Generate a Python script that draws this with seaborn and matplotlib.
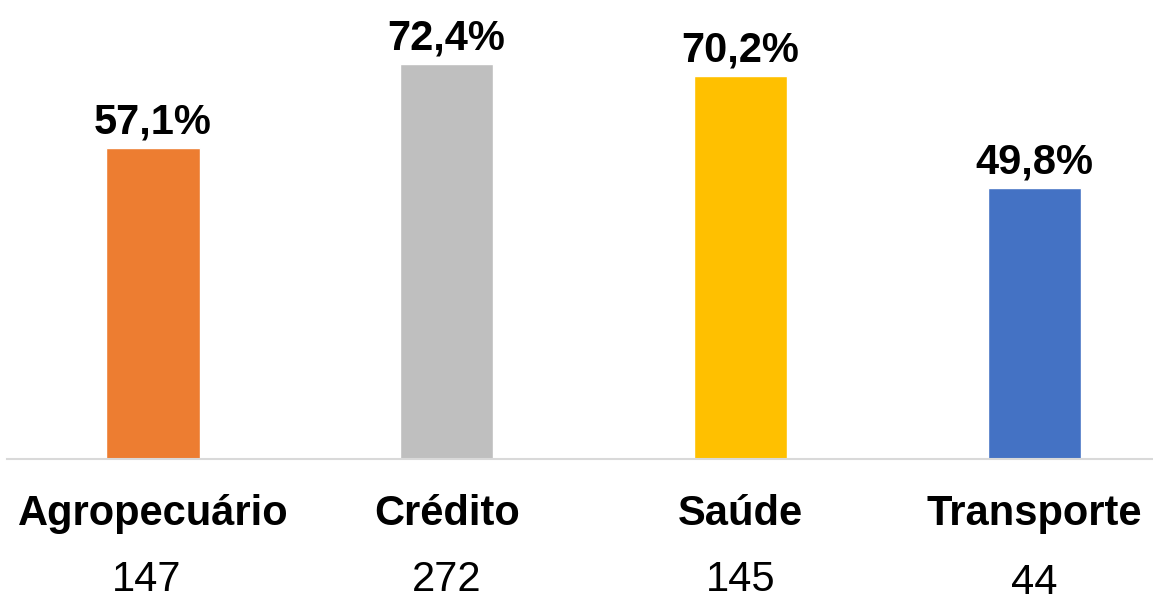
import pandas as pd
import seaborn as sns
import matplotlib.pyplot as plt

# === Data ===
categories = ["Agropecuário", "Crédito", "Saúde", "Transporte"]
percentages = [57.1, 72.4, 70.2, 49.8]
counts = [147, 272, 145, 44]
colors = ["#ED7D31", "#BFBFBF", "#FFC000", "#4472C4"]

df = pd.DataFrame({"setor": categories, "pct": percentages})

sns.set_style("white")
plt.rcParams["font.family"] = ["Liberation Sans", "DejaVu Sans"]
plt.rcParams["text.color"] = "black"

fig = plt.figure(figsize=(11.53, 6.03), dpi=100)
ax = fig.add_axes([7 / 1153, 144 / 603, 1146 / 1153, 436 / 603])

sns.barplot(data=df, x="setor", y="pct", hue="setor", palette=colors,
            width=0.317, legend=False, ax=ax, saturation=1)

ax.set_xlim(-0.497, -0.497 + 1146 / 293.7)
ax.set_ylim(0, 80)

# value labels on top of bars
for cont, v in zip(ax.containers, percentages):
    ax.bar_label(cont, labels=[f"{v:.1f}".replace(".", ",") + "%"],
                 padding=4, fontsize=30, fontweight="bold", color="black")

# category names and counts under the axis
trans = ax.get_xaxis_transform()
for i, (name, n) in enumerate(zip(categories, counts)):
    ax.text(i, -0.151, name, transform=trans, ha="center", va="baseline",
            fontsize=30, fontweight="bold", color="black")
    ax.text(i - 0.02 if i == 0 else i, -0.303 if n != 44 else -0.310, str(n),
            transform=trans, ha="center", va="baseline", fontsize=30,
            color="black")

ax.set_xticks([])
ax.set_yticks([])
ax.set_xlabel("")
ax.set_ylabel("")
for side in ["top", "right", "left"]:
    ax.spines[side].set_visible(False)
ax.spines["bottom"].set_color("#D9D9D9")
ax.spines["bottom"].set_linewidth(1.5)

fig.savefig("out.png", dpi=100)
